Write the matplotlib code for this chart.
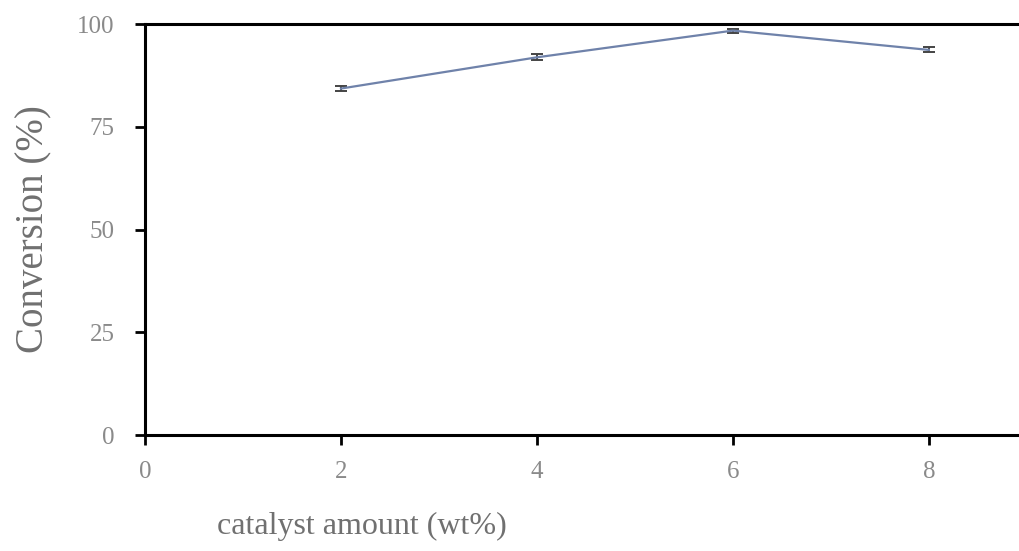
import matplotlib
matplotlib.use("Agg")
import matplotlib.pyplot as plt

# catalyst loading vs conversion
catalyst_wt = [2, 4, 6, 8]
conversion = [84.3, 91.9, 98.4, 93.7]
conversion_err = [0.6, 0.7, 0.5, 0.6]

x_ticks = [0, 2, 4, 6, 8]
y_ticks = [0, 25, 50, 75, 100]

plt.rcParams['font.family'] = ['Liberation Serif', 'DejaVu Serif']

fig = plt.figure(figsize=(10.19, 5.51), dpi=100)
ax = fig.add_axes([0.1423, 0.2105, 0.8577, 0.7459])

ax.errorbar(catalyst_wt, conversion, yerr=conversion_err,
            color='#6f82aa', ecolor='#444444', linewidth=1.6,
            elinewidth=1.4, capsize=4, capthick=1.4)

ax.set_xlim(0, 8.92)
ax.set_ylim(0, 100)
ax.set_xticks(x_ticks)
ax.set_yticks(y_ticks)

for side in ['left', 'bottom', 'top']:
    ax.spines[side].set_linewidth(2.2)
    ax.spines[side].set_color('black')
ax.spines['right'].set_visible(False)

ax.tick_params(axis='both', direction='out', length=7, width=2,
               color='black', labelcolor='#8a8a8a', labelsize=18)
ax.tick_params(axis='y', pad=15)
ax.tick_params(axis='x', pad=12)

ax.set_xlabel('catalyst amount (wt%)', fontsize=23, color='#707070')
ax.set_ylabel('Conversion (%)', fontsize=28, color='#707070')
ax.xaxis.set_label_coords(0.248, -0.188)
ax.yaxis.set_label_coords(-0.106, 0.5)

fig.savefig('out.png', dpi=100)
